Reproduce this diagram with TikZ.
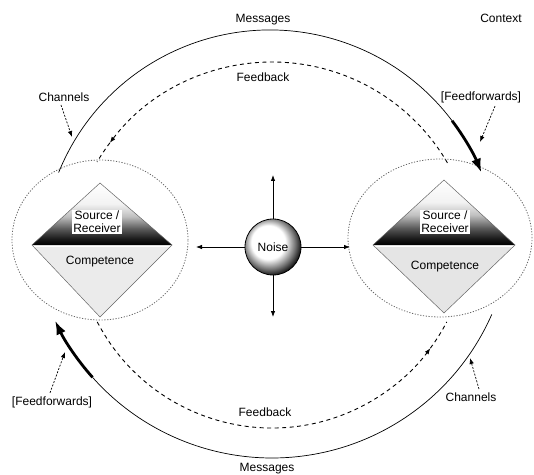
\documentclass[tikz,border=0pt]{standalone}
\usepackage{fontspec}
\setmainfont{Liberation Sans}
\usetikzlibrary{arrows.meta, shapes.geometric}

\pgfdeclareverticalshading{fonte}{100bp}{color(0bp)=(black); color(25bp)=(black); color(30bp)=(black!90); color(38bp)=(black!65); color(48bp)=(black!25); color(58bp)=(black!5); color(75bp)=(white); color(100bp)=(white)}
\pgfdeclareradialshading{bola}{\pgfpoint{-6bp}{6bp}}{color(0bp)=(white); color(15bp)=(white); color(23bp)=(black!55); color(29bp)=(black); color(50bp)=(black)}

\begin{document}
\begin{tikzpicture}[x = 1pt, y = 1pt, font = \fontsize{12}{13}\selectfont,
	circulo/.style  = {draw = black!60, line width = 0.8pt, dash pattern = on 1.2pt off 1.6pt},
	losango/.style  = {draw = black!60, line width = 0.5pt},
	mensagem/.style = {draw = black, line width = 0.7pt},
	retorno/.style  = {draw = black, line width = 0.9pt, dash pattern = on 4pt off 3.5pt},
	rotulo/.style   = {draw = black, line width = 0.7pt, dash pattern = on 2pt off 1.5pt, -{Latex[length = 6pt, width = 4.5pt]}},
	grosso/.style   = {draw = black, line width = 2.8pt, -{Latex[length = 14pt, width = 10pt]}},
	seta/.style     = {draw = black, line width = 0.8pt, -{Latex[length = 6pt, width = 4.5pt]}}]

	\useasboundingbox (0, 0) rectangle (534, 474);

	\node[ellipse, circulo, minimum width = 176pt, minimum height = 160pt] (circE) at (100, 234) {}; % Círculo esquerdo
	\node[ellipse, circulo, minimum width = 184pt, minimum height = 158pt] (circD) at (440, 236) {}; % Círculo direito

	% Losango esquerdo
	\shade[shading = fonte] ( 32, 229) -- (100, 291) -- (172, 229) -- cycle;
	\fill[black!8] ( 34, 227) -- (170, 227) -- (100, 157) -- cycle;
	\draw[losango] ( 32, 229) -- (100, 291) -- (172, 229) -- (100, 157) -- cycle;

	% Losango direito
	\shade[shading = fonte] (373, 229) -- (444, 294) -- (515, 229) -- cycle;
	\fill[black!10] (375, 227) -- (513, 227) -- (444, 161) -- cycle;
	\draw[losango] (373, 229) -- (444, 294) -- (515, 229) -- (444, 161) -- cycle;

	\node[fill = white, inner sep = 1.5pt, align = center] (fonteE) at ( 97, 252) {Source /\\Receiver};
	\node[fill = white, inner sep = 1.5pt, align = center] (fonteD) at (445, 252) {Source /\\Receiver};
	\node (compE) at (100, 212) {Competence};
	\node (compD) at (445, 207) {Competence};

	% Ruído
	\node[circle, draw = black, line width = 0.8pt, shading = bola, minimum size = 56pt, inner sep = 0pt] (ruido) at (273, 227) {Noise};
	\coordinate (rN) at (273, 299);
	\coordinate (rS) at (273, 157);
	\coordinate (rO) at (196, 227);
	\coordinate (rL) at (350, 227);
	\draw[seta] (ruido.north) -- (rN);
	\draw[seta] (ruido.south) -- (rS);
	\draw[seta] (ruido.west)  -- (rO);
	\draw[seta] (ruido.east)  -- (rL);

	% Mensagens
	\draw[mensagem] (270, 216) ++(158:228) arc[start angle = 158, end angle = 37, radius = 228];
	\draw[grosso]   (270, 216) ++( 37:228) arc[start angle = 37, end angle = 22, radius = 228];
	\draw[mensagem] (272, 256) ++(-23.7:240) arc[start angle = -23.7, end angle = -138.4, radius = 240];
	\draw[grosso]   (272, 256) ++(-138.4:240) arc[start angle = -138.4, end angle = -154.7, radius = 240];

	% Feedback
	\draw[retorno, -{Latex[length = 6pt, width = 4.5pt]}] (272, 209) ++(30.2:203) arc[start angle = 30.2, end angle = 143, radius = 203];
	\draw[retorno] (272, 209) ++(143:203) arc[start angle = 143, end angle = 149.5, radius = 203];
	\draw[retorno, -{Latex[length = 6pt, width = 4.5pt]}] (272, 243) ++(-152.5:197) arc[start angle = -152.5, end angle = -36.5, radius = 197];
	\draw[retorno] (272, 243) ++(-36.5:197) arc[start angle = -36.5, end angle = -27.5, radius = 197];

	% Rótulos
	\node[black] (msgA)  at (263, 454) {Messages};
	\node[black] (ctx)   at (501, 456) {Context};
	\node[black] (fbA)   at (263, 397) {Feedback};
	\node[black] (fbB)   at (265,  62) {Feedback};
	\node[black] (msgB)  at (267,   5) {Messages};
	\node[black] (canA)  at ( 64, 377) {Channels};
	\node[black] (avA)   at (481, 377) {[Feedforwards]};
	\node[black] (avB)   at ( 52,  72) {[Feedforwards]};
	\node[black] (canB)  at (471,  77) {Channels};

	\coordinate (pcanA) at ( 72, 337);
	\coordinate (pavA)  at (480, 332);
	\coordinate (pavB)  at ( 65, 122);
	\coordinate (pcanB) at (470, 116);
	\draw[rotulo] ([xshift = -3pt]canA.south) -- (pcanA);
	\draw[rotulo] ([xshift = 14pt]avA.south)  -- (pavA);
	\draw[rotulo] ([xshift = -2pt]avB.north)  -- (pavB);
	\draw[rotulo] ([xshift =  8pt]canB.north) -- (pcanB);

\end{tikzpicture}
\end{document}
